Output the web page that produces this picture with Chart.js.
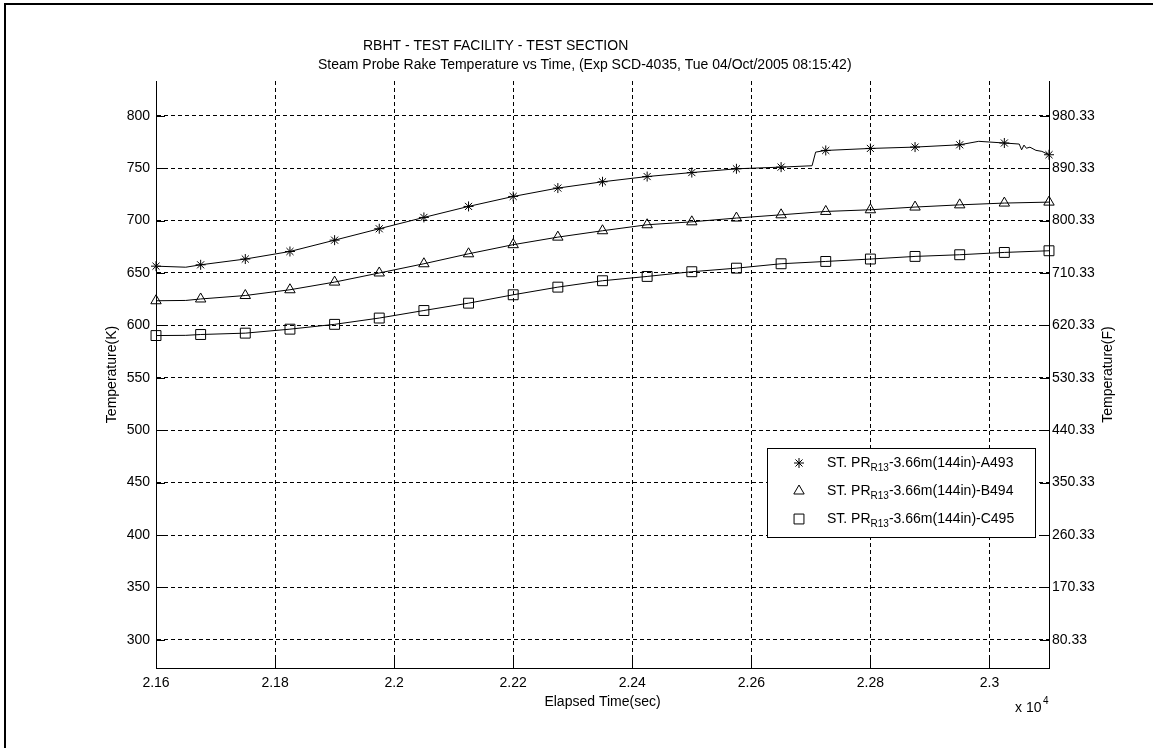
<!DOCTYPE html>
<html>
<head>
<meta charset="utf-8">
<script src="https://cdn.jsdelivr.net/npm/chart.js@4.4.0/dist/chart.umd.min.js"></script>
<style>
  body { margin: 0; background: #fff; }
  canvas { display: block; }
</style>
</head>
<body>
<canvas id="chart" width="1153" height="748"></canvas>
<script>
// Elapsed time (s) and temperature (K)
const timeA = [21600, 21650, 21675, 21750, 21825, 21900, 21975, 22050, 22125, 22200, 22275, 22350, 22425, 22500, 22575, 22650, 22702, 22708, 22725, 22800, 22875, 22950, 22982, 23025, 23050, 23054, 23058, 23062, 23068, 23078, 23088, 23100];
const tempA = [656.5, 655.5, 657.8, 663.3, 670.5, 681.3, 692.2, 703.0, 713.5, 723.0, 731.0, 737.0, 742.0, 745.8, 749.4, 751.0, 752.3, 765.3, 766.9, 768.8, 770.1, 772.3, 775.6, 774.0, 773.0, 767.5, 772.0, 769.0, 770.0, 767.0, 766.0, 762.8];

const timeBC = [21600, 21650, 21675, 21750, 21825, 21900, 21975, 22050, 22125, 22200, 22275, 22350, 22425, 22500, 22575, 22650, 22725, 22800, 22875, 22950, 23025, 23100];
const tempB = [623.5, 623.8, 625.2, 628.5, 634.0, 641.3, 650.0, 658.8, 668.3, 677.0, 684.2, 690.3, 696.0, 698.8, 702.4, 705.5, 708.7, 710.3, 712.9, 715.0, 716.7, 717.6];
const tempC = [590.3, 590.5, 591.3, 592.6, 596.4, 601.0, 607.0, 614.2, 621.2, 629.2, 636.5, 642.6, 646.7, 651.2, 654.6, 658.8, 661.0, 663.3, 665.8, 667.4, 669.6, 671.2];

const xTicks = [21600, 21800, 22000, 22200, 22400, 22600, 22800, 23000];
const yTicks = [300, 350, 400, 450, 500, 550, 600, 650, 700, 750, 800];
const xRange = [21600, 23100];
const yRange = [273.15, 833.15];
const markerStep = 75;

const titleLines = [
  'RBHT - TEST FACILITY - TEST SECTION',
  'Steam Probe Rake Temperature vs Time, (Exp SCD-4035, Tue 04/Oct/2005 08:15:42)'
];
const seriesNames = ['A493', 'B494', 'C495'];
const seriesStyles = ['star', 'triangle', 'rect'];
const markerRadius = { star: 5, triangle: 6, rect: 7 };

const FONT = '"Liberation Sans", Arial, Helvetica, sans-serif';

function toPoints(times, temps) {
  return times.map((t, i) => ({ x: t, y: temps[i] }));
}

function makeDataset(name, times, temps, style) {
  return {
    label: name,
    data: toPoints(times, temps),
    borderColor: '#000',
    borderWidth: 1,
    backgroundColor: 'rgba(0,0,0,0)',
    pointStyle: style,
    pointBorderColor: '#000',
    pointBorderWidth: 1,
    pointBackgroundColor: 'rgba(0,0,0,0)',
    pointRadius: ctx => ((ctx.raw.x - xRange[0]) % markerStep === 0 ? markerRadius[style] : 0),
    pointHoverRadius: 0,
    tension: 0,
    clip: false
  };
}

// Kelvin to Fahrenheit for the right axis
function toF(k) {
  return ((k - 273.15) * 1.8 + 32).toFixed(2);
}

function drawMarker(ctx, style, x, y) {
  const r = markerRadius[style];
  ctx.beginPath();
  if (style === 'star') {
    ctx.moveTo(x - r, y); ctx.lineTo(x + r, y);
    ctx.moveTo(x, y - r); ctx.lineTo(x, y + r);
    const d = r * Math.SQRT1_2;
    ctx.moveTo(x - d, y - d); ctx.lineTo(x + d, y + d);
    ctx.moveTo(x - d, y + d); ctx.lineTo(x + d, y - d);
  } else if (style === 'triangle') {
    ctx.moveTo(x, y - r);
    ctx.lineTo(x + r * Math.sin(2 * Math.PI / 3), y - r * Math.cos(2 * Math.PI / 3));
    ctx.lineTo(x + r * Math.sin(4 * Math.PI / 3), y - r * Math.cos(4 * Math.PI / 3));
    ctx.closePath();
  } else {
    const s = r * Math.SQRT1_2;
    ctx.rect(x - s, y - s, 2 * s, 2 * s);
  }
  ctx.stroke();
}

const decorPlugin = {
  id: 'decor',
  afterDraw(chart) {
    const ctx = chart.ctx;
    const area = chart.chartArea;
    const xs = chart.scales.x;
    const ys = chart.scales.y;
    ctx.save();

    // figure frame (left and top edges)
    ctx.fillStyle = '#000';
    ctx.fillRect(4, 3, 2, chart.height - 3);
    ctx.fillRect(4, 3, chart.width - 4, 2);

    // inward tick marks
    ctx.strokeStyle = '#000';
    ctx.lineWidth = 1;
    ctx.beginPath();
    xTicks.forEach(v => {
      const px = Math.round(xs.getPixelForValue(v)) + 0.5;
      ctx.moveTo(px, area.bottom);
      ctx.lineTo(px, area.bottom - 9);
    });
    yTicks.forEach(v => {
      const py = Math.round(ys.getPixelForValue(v)) + 0.5;
      ctx.moveTo(area.left, py);
      ctx.lineTo(area.left + 9, py);
      ctx.moveTo(area.right, py);
      ctx.lineTo(area.right - 9, py);
    });
    ctx.stroke();

    // title
    ctx.fillStyle = '#000';
    ctx.font = '14px ' + FONT;
    ctx.textBaseline = 'middle';
    ctx.textAlign = 'left';
    ctx.fillText(titleLines[0], 363, 46);
    ctx.fillText(titleLines[1], 318, 65);

    // exponent label under the x axis
    ctx.fillText('x 10', 1015, 708);
    ctx.font = '10px ' + FONT;
    ctx.fillText('4', 1043, 701);

    // right axis title, reading bottom to top
    ctx.save();
    ctx.translate(1108, (area.top + area.bottom) / 2);
    ctx.rotate(-Math.PI / 2);
    ctx.textAlign = 'center';
    ctx.font = '14px ' + FONT;
    ctx.fillText('Temperature(F)', 0, 0);
    ctx.restore();

    // legend
    const box = { x: 767.5, y: 448.5, w: 268, h: 89 };
    ctx.fillStyle = '#fff';
    ctx.fillRect(box.x, box.y, box.w, box.h);
    ctx.strokeStyle = '#000';
    ctx.strokeRect(box.x, box.y, box.w, box.h);
    const rowY = [463, 491, 519];
    seriesNames.forEach((name, i) => {
      drawMarker(ctx, seriesStyles[i], 799, rowY[i]);
      ctx.fillStyle = '#000';
      ctx.textAlign = 'left';
      let tx = 827;
      ctx.font = '14px ' + FONT;
      ctx.fillText('ST. PR', tx, rowY[i]);
      tx += ctx.measureText('ST. PR').width;
      ctx.font = '10px ' + FONT;
      ctx.fillText('R13', tx, rowY[i] + 5);
      tx += ctx.measureText('R13').width;
      ctx.font = '14px ' + FONT;
      ctx.fillText('-3.66m(144in)-' + name, tx, rowY[i]);
    });
    ctx.restore();
  }
};

const tickFont = { family: FONT, size: 14 };

new Chart(document.getElementById('chart'), {
  type: 'line',
  data: {
    datasets: [
      makeDataset(seriesNames[0], timeA, tempA, seriesStyles[0]),
      makeDataset(seriesNames[1], timeBC, tempB, seriesStyles[1]),
      makeDataset(seriesNames[2], timeBC, tempC, seriesStyles[2])
    ]
  },
  options: {
    responsive: false,
    animation: false,
    devicePixelRatio: 1,
    layout: { padding: { top: 81, left: 0, right: 0, bottom: 0 } },
    plugins: {
      legend: { display: false },
      title: { display: false },
      tooltip: { enabled: false }
    },
    scales: {
      x: {
        type: 'linear',
        min: xRange[0],
        max: xRange[1],
        afterBuildTicks: s => { s.ticks = xTicks.map(v => ({ value: v })); },
        afterFit: s => { s.height = 80; },
        ticks: {
          color: '#000',
          font: tickFont,
          padding: 7,
          maxRotation: 0,
          callback: v => String(+(v / 10000).toFixed(2))
        },
        grid: { color: '#000', lineWidth: 1, drawTicks: false },
        border: { display: true, color: '#000', width: 1, dash: [4, 3] },
        title: {
          display: true,
          text: 'Elapsed Time(sec)',
          color: '#000',
          font: tickFont,
          padding: { top: 0, bottom: 37 }
        }
      },
      y: {
        type: 'linear',
        position: 'left',
        min: yRange[0],
        max: yRange[1],
        afterBuildTicks: s => { s.ticks = yTicks.map(v => ({ value: v })); },
        afterFit: s => { s.width = 156; },
        ticks: { color: '#000', font: tickFont, padding: 6 },
        grid: { color: '#000', lineWidth: 1, drawTicks: false },
        border: { display: true, color: '#000', width: 1, dash: [4, 3] },
        title: {
          display: true,
          text: 'Temperature(K)',
          color: '#000',
          font: tickFont,
          padding: { top: 104, bottom: 0 }
        }
      },
      y2: {
        type: 'linear',
        position: 'right',
        min: yRange[0],
        max: yRange[1],
        afterBuildTicks: s => { s.ticks = yTicks.map(v => ({ value: v })); },
        afterFit: s => { s.width = 104; },
        ticks: { color: '#000', font: tickFont, padding: 3, callback: v => toF(v) },
        grid: { display: false, drawTicks: false },
        border: { display: true, color: '#000', width: 1 }
      }
    }
  },
  plugins: [decorPlugin]
});
</script>
</body>
</html>
